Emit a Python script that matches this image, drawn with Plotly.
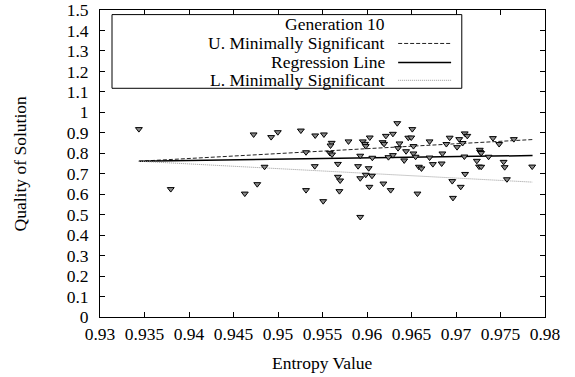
import plotly.graph_objects as go

entropy = [0.93437, 0.93795, 0.94627, 0.94726, 0.94767, 0.94849, 0.94923, 0.94998,
           0.95257, 0.95315, 0.95315, 0.95413, 0.95418, 0.95516, 0.95508, 0.95603,
           0.95590, 0.95582, 0.95607, 0.95673, 0.95673, 0.95698, 0.95690, 0.95792,
           0.95900, 0.95924, 0.95924, 0.95924, 0.95953, 0.95978, 0.95986, 0.95986,
           0.96031, 0.96019, 0.96027, 0.96056, 0.96060, 0.96175, 0.96192, 0.96184,
           0.96212, 0.96241, 0.96266, 0.96291, 0.96291, 0.96340, 0.96349, 0.96365,
           0.96418, 0.96439, 0.96464, 0.96497, 0.96509, 0.96522, 0.96522, 0.96546,
           0.96567, 0.96583, 0.96612, 0.96703, 0.96703, 0.96740, 0.96839, 0.96847,
           0.96892, 0.96929, 0.96958, 0.96966, 0.97012, 0.97036, 0.97053, 0.97074,
           0.97094, 0.97098, 0.97127, 0.97102, 0.97234, 0.97267, 0.97271, 0.97283,
           0.97259, 0.97283, 0.97366, 0.97415, 0.97485, 0.97535, 0.97547, 0.97572,
           0.97650, 0.97856]
quality = [0.918, 0.625, 0.603, 0.892, 0.649, 0.734, 0.879, 0.903,
           0.911, 0.805, 0.620, 0.737, 0.887, 0.892, 0.566, 0.851,
           0.838, 0.802, 0.794, 0.748, 0.685, 0.667, 0.615, 0.858,
           0.737, 0.788, 0.678, 0.489, 0.858, 0.846, 0.835, 0.695,
           0.877, 0.727, 0.636, 0.690, 0.778, 0.854, 0.846, 0.652,
           0.885, 0.781, 0.620, 0.895, 0.791, 0.947, 0.825, 0.848,
           0.765, 0.810, 0.876, 0.877, 0.918, 0.835, 0.799, 0.783,
           0.603, 0.734, 0.726, 0.858, 0.779, 0.747, 0.750, 0.799,
           0.845, 0.876, 0.664, 0.582, 0.830, 0.869, 0.636, 0.850,
           0.784, 0.897, 0.885, 0.699, 0.763, 0.817, 0.807, 0.801,
           0.735, 0.734, 0.783, 0.874, 0.845, 0.758, 0.732, 0.673,
           0.869, 0.735]

line_x = [0.93437, 0.97860]
upper_y = [0.761, 0.867]
regression_y = [0.761, 0.789]
lower_y = [0.761, 0.659]

x_ticks = [0.93, 0.935, 0.94, 0.945, 0.95, 0.955, 0.96, 0.965, 0.97, 0.975, 0.98]
x_tick_labels = ["0.93", "0.935", "0.94", "0.945", "0.95", "0.955", "0.96", "0.965", "0.97", "0.975", "0.98"]
y_ticks = [i / 10 for i in range(16)]
y_tick_labels = ["0", "0.1", "0.2", "0.3", "0.4", "0.5", "0.6", "0.7", "0.8", "0.9",
                 "1", "1.1", "1.2", "1.3", "1.4", "1.5"]

legend_names = ["Generation 10", "U. Minimally Significant", "Regression Line", "L. Minimally Significant"]
x_title = "Entropy Value"
y_title = "Quality of Solution"

FONT = "Liberation Serif"
FS = 17.5

fig = go.Figure()
fig.add_trace(go.Scatter(x=line_x, y=upper_y, mode="lines",
                         line=dict(color="#222", width=1, dash="4px,2px"), showlegend=False))
fig.add_trace(go.Scatter(x=line_x, y=regression_y, mode="lines",
                         line=dict(color="black", width=1.5), showlegend=False))
fig.add_trace(go.Scatter(x=line_x, y=lower_y, mode="lines",
                         line=dict(color="#999", width=1, dash="1px,1px"), showlegend=False))
fig.add_trace(go.Scatter(x=entropy, y=quality, mode="markers",
                         marker=dict(symbol="triangle-down", size=6, color="#8a8a8a",
                                     line=dict(color="black", width=1)),
                         showlegend=False))

# legend drawn manually (text right-aligned, sample on right, gnuplot style)
row_y = [0.953, 0.891, 0.829, 0.771]
fig.add_shape(type="rect", xref="paper", yref="paper", x0=0.027, x1=0.813, y0=0.745, y1=0.985,
              line=dict(color="black", width=1), fillcolor="white", layer="above")
for name, ry in zip(legend_names, row_y):
    fig.add_annotation(xref="paper", yref="paper", x=0.645, y=ry, text=name, showarrow=False,
                       xanchor="right", yanchor="middle", font=dict(family=FONT, size=FS, color="black"))
fig.add_shape(type="line", xref="paper", yref="paper", x0=0.670, x1=0.789, y0=row_y[1], y1=row_y[1],
              line=dict(color="#222", width=1, dash="4px,2px"), layer="above")
fig.add_shape(type="line", xref="paper", yref="paper", x0=0.670, x1=0.789, y0=row_y[2], y1=row_y[2],
              line=dict(color="black", width=1.5), layer="above")
fig.add_shape(type="line", xref="paper", yref="paper", x0=0.670, x1=0.789, y0=row_y[3], y1=row_y[3],
              line=dict(color="#999", width=1, dash="1px,1px"), layer="above")
fig.add_trace(go.Scatter(x=[0.735], y=[row_y[0]], xaxis="x2", yaxis="y2", mode="markers",
                         marker=dict(symbol="triangle-down", size=6, color="#8a8a8a",
                                     line=dict(color="black", width=1)),
                         showlegend=False, hoverinfo="skip"))

# axis titles
fig.add_annotation(xref="paper", yref="paper", x=0.5, y=-0.15, text=x_title, showarrow=False,
                   xanchor="center", yanchor="middle", font=dict(family=FONT, size=FS, color="black"))
fig.add_annotation(xref="paper", yref="paper", x=-0.18, y=0.5, text=y_title, showarrow=False,
                   textangle=-90, xanchor="center", yanchor="middle",
                   font=dict(family=FONT, size=FS, color="black"))

axis_common = dict(showgrid=False, zeroline=False, showline=True, linecolor="black", linewidth=1,
                   mirror="ticks", ticks="inside", ticklen=5, tickcolor="black", automargin=False,
                   tickfont=dict(family=FONT, size=FS, color="black"))

fig.update_layout(
    width=575, height=377,
    margin=dict(l=100, r=30, t=10, b=60),
    plot_bgcolor="white", paper_bgcolor="white",
    showlegend=False,
    xaxis=dict(range=[0.93, 0.98], tickvals=x_ticks, ticktext=x_tick_labels,
               ticklabelstandoff=1, **axis_common),
    yaxis=dict(range=[0, 1.5], tickvals=y_ticks, ticktext=y_tick_labels,
               ticklabelstandoff=7, **axis_common),
    xaxis2=dict(range=[0, 1], overlaying="x", visible=False, fixedrange=True),
    yaxis2=dict(range=[0, 1], overlaying="y", visible=False, fixedrange=True),
)

fig.write_html("out.html", config={"displayModeBar": False},
               post_script="document.body.style.margin='0';")
